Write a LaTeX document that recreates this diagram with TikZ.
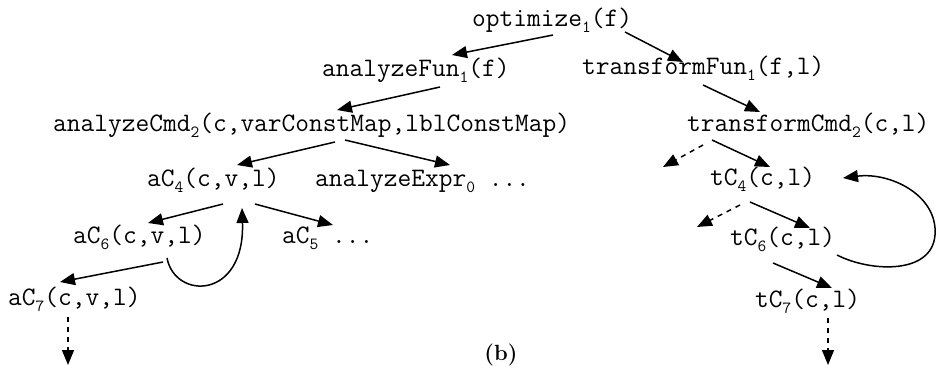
\documentclass[tikz,border=0pt]{standalone}
\usepackage{fontspec}
\usetikzlibrary{arrows.meta,calc}
\newcommand\lowsub[1]{\raisebox{-6pt}{\fontsize{17}{17}\selectfont #1}}
\tikzset{
  call/.style={anchor=base west, inner sep=0pt, font=\ttfamily\fontsize{26.67}{30}\selectfont},
  arr/.style={line width=1.5pt, -{Triangle[length=15pt,width=12pt]}},
  darr/.style={arr, dash pattern=on 5pt off 5pt},
}
\begin{document}
\begin{tikzpicture}[x={(1pt,0)}, y={(0,-1pt)}]
\useasboundingbox (0,0) rectangle (940,368);

% call nodes
\node[call] (opt)   at (472,26)  {optimize\lowsub{1}(f)};
\node[call] (afun)  at (322,76)  {analyzeFun\lowsub{1}(f)};
\node[call] (tfun)  at (582,74)  {transformFun\lowsub{1}(f,l)};
\node[call] (acmd)  at (53,131)  {analyzeCmd\lowsub{2}(c,varConstMap,lblConstMap)};
\node[call] (tcmd)  at (687,131) {transformCmd\lowsub{2}(c,l)};
\node[call] (ac4)   at (147,186) {aC\lowsub{4}(c,v,l)};
\node[call] (aexpr) at (315,186) {analyzeExpr\lowsub{0} ...};
\node[call] (tc4)   at (710,185) {tC\lowsub{4}(c,l)};
\node[call] (ac6)   at (73,243)  {aC\lowsub{6}(c,v,l)};
\node[call] (ac5)   at (282,243) {aC\lowsub{5} ...};
\node[call] (tc6)   at (730,245) {tC\lowsub{6}(c,l)};
\node[call] (ac7)   at (8,305)   {aC\lowsub{7}(c,v,l)};
\node[call] (tc7)   at (755,307) {tC\lowsub{7}(c,l)};
\node[inner sep=0pt, font=\bfseries\fontsize{22}{26}\selectfont] (cap) at (501,355) {(b)};

% open ends of the dashed calls
\coordinate (td1) at (663,167);
\coordinate (td2) at (697,227);
\coordinate (adn) at (68,365);
\coordinate (tdn) at (828,365);

% call edges
\draw[arr] ($(opt.base west)+(81,9)$)    -- ($(afun.base west)+(130,-21)$);
\draw[arr] ($(opt.base west)+(153,6)$)   -- ($(tfun.base west)+(101,-12)$);
\draw[arr] ($(afun.base west)+(118,11)$) -- ($(acmd.base west)+(284,-21)$);
\draw[arr] ($(tfun.base west)+(121,11)$) -- ($(tcmd.base west)+(73,-19)$);
\draw[arr] ($(acmd.base west)+(282,11)$) -- ($(ac4.base west)+(90,-21)$);
\draw[arr] ($(acmd.base west)+(292,9)$)  -- ($(aexpr.base west)+(135,-21)$);
\draw[darr] ($(tcmd.base west)+(16,14)$) -- (td1);
\draw[arr] ($(tcmd.base west)+(25,9)$)   -- ($(tc4.base west)+(60,-18)$);
\draw[arr] ($(ac4.base west)+(76,18)$)   -- ($(ac6.base west)+(75,-20)$);
\draw[arr] ($(ac4.base west)+(108,18)$)  -- ($(ac5.base west)+(51,-18)$);
\draw[darr] ($(tc4.base west)+(30,20)$)  -- (td2);
\draw[arr] ($(tc4.base west)+(40,17)$)   -- ($(tc6.base west)+(80,-17)$);
\draw[arr] ($(ac6.base west)+(90,19)$)   -- ($(ac7.base west)+(52,-23)$);
\draw[arr] ($(tc6.base west)+(43,18)$)   -- ($(tc7.base west)+(77,-19)$);
\draw[darr] ($(ac7.base west)+(60,12)$)  -- (adn);
\draw[darr] ($(tc7.base west)+(73,11)$)  -- (tdn);

% return edges
\draw[arr] ($(ac6.base west)+(94,15)$)
  .. controls ($(ac6.base west)+(102,57)$) and ($(ac4.base west)+(98,114)$)
  .. ($(ac4.base west)+(95,22)$);
\draw[arr] ($(tc6.base west)+(107,10)$)
  .. controls ($(tc6.base west)+(140,27)$) and ($(tc6.base west)+(202,30)$)
  .. ($(tc6.base west)+(205,-10)$)
  .. controls ($(tc6.base west)+(208,-50)$) and ($(tc4.base west)+(180,-13)$)
  .. ($(tc4.base west)+(133,-7)$);
\end{tikzpicture}
\end{document}
